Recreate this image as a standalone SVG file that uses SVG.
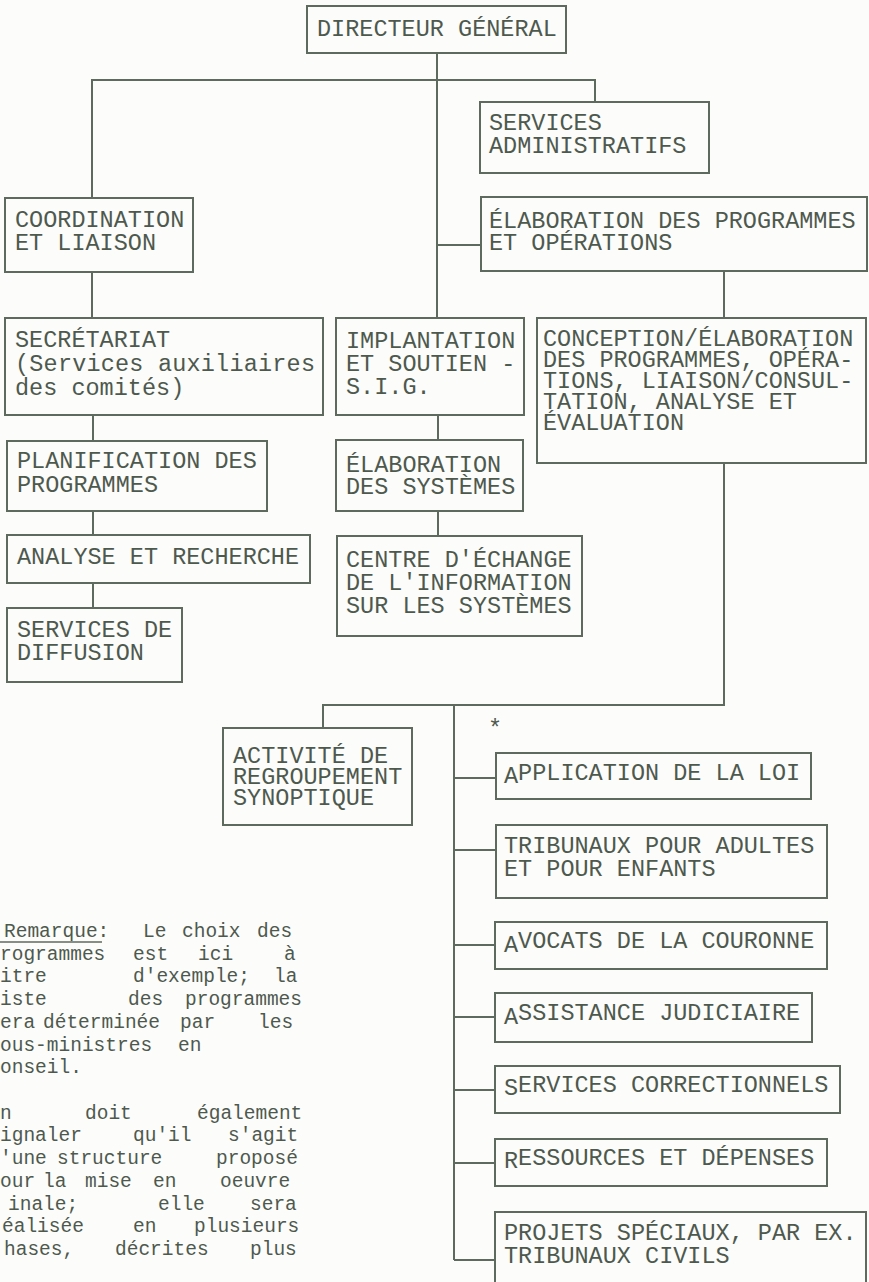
<svg xmlns="http://www.w3.org/2000/svg" width="869" height="1282" viewBox="0 0 869 1282">
<style>
.b{fill:none;stroke:#5f6a5f;stroke-width:2}
.c{fill:none;stroke:#5f6a5f;stroke-width:2}
.t{font-family:"Liberation Mono",monospace;font-size:23.5px;fill:#4e594e}
.n{font-family:"Liberation Mono",monospace;font-size:19.5px;fill:#4e594e}
</style>
<rect x="0" y="0" width="869" height="1282" fill="#fcfcfb"/>
<g id="connectors">
<path class="c" d="M92,198 V80 H595 V102"/>
<path class="c" d="M437,53 V318"/>
<path class="c" d="M437,245 H481"/>
<path class="c" d="M724,271 V318"/>
<path class="c" d="M92,272 V318"/>
<path class="c" d="M93,415 V441 M93,511 V535 M93,583 V608"/>
<path class="c" d="M438,415 V440 M438,511 V536"/>
<path class="c" d="M724,463 V705 H323 V728"/>
<path class="c" d="M454,705 V1260"/>
<path class="c" d="M454,778 H496 M454,850 H496 M454,945 H495 M454,1017 H495 M454,1090 H495 M454,1163 H495 M454,1260 H495"/>
</g>
<g id="dg"><rect class="b" x="307" y="6" width="259" height="47"/><text class="t" x="317" y="36">DIRECTEUR GÉNÉRAL</text></g>
<g id="admin"><rect class="b" x="480" y="102" width="229" height="71"/><text class="t"><tspan x="489" y="130">SERVICES</tspan><tspan x="489" y="153">ADMINISTRATIFS</tspan></text></g>
<g id="elabprog"><rect class="b" x="481" y="197" width="386" height="74"/><text class="t"><tspan x="489" y="228">ÉLABORATION DES PROGRAMMES</tspan><tspan x="489" y="250">ET OPÉRATIONS</tspan></text></g>
<g id="conception"><rect class="b" x="537" y="318" width="329" height="145"/>
<text class="t"><tspan x="543" y="346">CONCEPTION/ÉLABORATION</tspan><tspan x="543" y="367">DES PROGRAMMES, OPÉRA-</tspan><tspan x="543" y="388">TIONS, LIAISON/CONSUL-</tspan><tspan x="543" y="409">TATION, ANALYSE ET</tspan><tspan x="543" y="430">ÉVALUATION</tspan></text></g>
<g id="coord"><rect class="b" x="5" y="198" width="188" height="74"/><text class="t"><tspan x="15" y="227">COORDINATION</tspan><tspan x="15" y="250">ET LIAISON</tspan></text></g>
<g id="secretariat"><rect class="b" x="5" y="318" width="318" height="97"/><text class="t"><tspan x="15" y="347">SECRÉTARIAT</tspan><tspan x="15" y="371" textLength="300">(Services auxiliaires</tspan><tspan x="15" y="395">des comités)</tspan></text></g>
<g id="planif"><rect class="b" x="7" y="441" width="260" height="70"/><text class="t"><tspan x="17" y="468">PLANIFICATION DES</tspan><tspan x="17" y="492">PROGRAMMES</tspan></text></g>
<g id="analyse"><rect class="b" x="7" y="535" width="303" height="48"/><text class="t" x="17" y="564">ANALYSE ET RECHERCHE</text></g>
<g id="diffusion"><rect class="b" x="7" y="608" width="175" height="74"/><text class="t"><tspan x="17" y="637">SERVICES DE</tspan><tspan x="17" y="660">DIFFUSION</tspan></text></g>
<g id="implantation"><rect class="b" x="336" y="318" width="188" height="97"/><text class="t"><tspan x="346" y="348">IMPLANTATION</tspan><tspan x="346" y="371">ET SOUTIEN -</tspan><tspan x="346" y="394">S.I.G.</tspan></text></g>
<g id="elabsys"><rect class="b" x="336" y="440" width="187" height="71"/><text class="t"><tspan x="346" y="472">ÉLABORATION</tspan><tspan x="346" y="494">DES SYSTÈMES</tspan></text></g>
<g id="centre"><rect class="b" x="337" y="536" width="245" height="100"/><text class="t"><tspan x="346" y="567">CENTRE D'ÉCHANGE</tspan><tspan x="346" y="590">DE L'INFORMATION</tspan><tspan x="346" y="613">SUR LES SYSTÈMES</tspan></text></g>
<g id="activite"><rect class="b" x="223" y="728" width="189" height="97"/><text class="t"><tspan x="233" y="763">ACTIVITÉ DE</tspan><tspan x="233" y="784">REGROUPEMENT</tspan><tspan x="233" y="805">SYNOPTIQUE</tspan></text></g>
<g id="asterisk"><text class="t" x="488" y="736">*</text></g>
<g id="application"><rect class="b" x="496" y="753" width="315" height="46"/><text class="t" x="504" y="780"><tspan dy="3">A</tspan><tspan dy="-3">PPLICATION DE LA LOI</tspan></text></g>
<g id="tribunaux"><rect class="b" x="496" y="825" width="331" height="73"/><text class="t"><tspan x="504" y="853">TRIBUNAUX POUR ADULTES</tspan><tspan x="504" y="876">ET POUR ENFANTS</tspan></text></g>
<g id="avocats"><rect class="b" x="495" y="922" width="332" height="47"/><text class="t" x="504" y="948"><tspan dy="4">A</tspan><tspan dy="-4">VOCATS DE LA COURONNE</tspan></text></g>
<g id="assistance"><rect class="b" x="495" y="993" width="317" height="49"/><text class="t" x="504" y="1020"><tspan dy="4">A</tspan><tspan dy="-4">SSISTANCE JUDICIAIRE</tspan></text></g>
<g id="correctionnels"><rect class="b" x="495" y="1066" width="345" height="47"/><text class="t" x="504" y="1092"><tspan dy="3">S</tspan><tspan dy="-3">ERVICES CORRECTIONNELS</tspan></text></g>
<g id="ressources"><rect class="b" x="495" y="1139" width="332" height="47"/><text class="t" x="504" y="1165"><tspan dy="3">R</tspan><tspan dy="-3">ESSOURCES ET DÉPENSES</tspan></text></g>
<g id="projets"><rect class="b" x="495" y="1212" width="371" height="85"/><text class="t"><tspan x="504" y="1240">PROJETS SPÉCIAUX, PAR EX.</tspan><tspan x="504" y="1263">TRIBUNAUX CIVILS</tspan></text></g>
<g id="note">
<line x1="0" y1="942" x2="102" y2="942" stroke="#5f6a5f" stroke-width="1.5"/>
<text class="n">
<tspan x="4" y="937">Remarque:</tspan><tspan x="143" y="937">Le</tspan><tspan x="182" y="937">choix</tspan><tspan x="257" y="937">des</tspan>
<tspan x="0" y="960">rogrammes</tspan><tspan x="133" y="960">est</tspan><tspan x="198" y="960">ici</tspan><tspan x="284" y="960">à</tspan>
<tspan x="0" y="982">itre</tspan><tspan x="133" y="982">d'exemple;</tspan><tspan x="274" y="982">la</tspan>
<tspan x="0" y="1005">iste</tspan><tspan x="128" y="1005">des</tspan><tspan x="185" y="1005">programmes</tspan>
<tspan x="0" y="1028">era</tspan><tspan x="43" y="1028">déterminée</tspan><tspan x="180" y="1028">par</tspan><tspan x="258" y="1028">les</tspan>
<tspan x="0" y="1051">ous-ministres</tspan><tspan x="178" y="1051">en</tspan>
<tspan x="0" y="1073">onseil.</tspan>
<tspan x="0" y="1119">n</tspan><tspan x="85" y="1119">doit</tspan><tspan x="197" y="1119">également</tspan>
<tspan x="0" y="1141">ignaler</tspan><tspan x="133" y="1141">qu'il</tspan><tspan x="228" y="1141">s'agit</tspan>
<tspan x="0" y="1164">'une</tspan><tspan x="57" y="1164">structure</tspan><tspan x="216" y="1164">proposé</tspan>
<tspan x="0" y="1187">our</tspan><tspan x="43" y="1187">la</tspan><tspan x="85" y="1187">mise</tspan><tspan x="153" y="1187">en</tspan><tspan x="220" y="1187">oeuvre</tspan>
<tspan x="8" y="1210">inale;</tspan><tspan x="158" y="1210">elle</tspan><tspan x="250" y="1210">sera</tspan>
<tspan x="2" y="1232">éalisée</tspan><tspan x="133" y="1232">en</tspan><tspan x="194" y="1232">plusieurs</tspan>
<tspan x="4" y="1255">hases,</tspan><tspan x="115" y="1255">décrites</tspan><tspan x="250" y="1255">plus</tspan>
</text>
</g>
</svg>
